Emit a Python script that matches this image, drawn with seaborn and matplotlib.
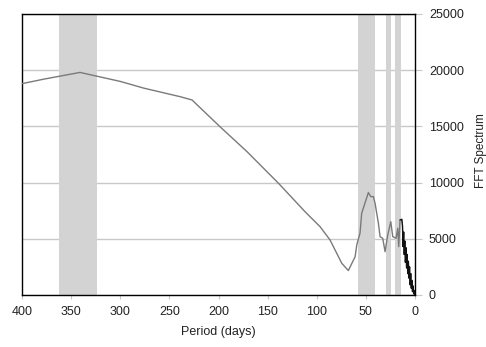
import numpy as np
import pandas as pd
import matplotlib
matplotlib.use("Agg")
import matplotlib.pyplot as plt
import seaborn as sns

# FFT spectrum (period in days, amplitude)
period = [400, 378, 341, 300, 276, 239, 227, 198.5, 171, 139, 112, 96.7, 86.5,
          74.6, 67.9, 61, 59.3, 56, 54.3, 47.5, 45.1, 42.4, 40.7, 37.3, 35.6,
          32.9, 30.5, 27.8, 24.7, 22.7, 19.3, 17.6, 16.6, 15.3,
          13.5, 12.8, 12.2, 11.6, 11.0, 10.4, 9.8, 9.2, 8.6, 8.0, 7.4, 6.8,
          6.2, 5.6, 5.0, 4.4, 3.8, 3.2, 2.6, 2.0, 1.4, 0.8, 0.3]
spectrum = [18800, 19200, 19800, 19000, 18400, 17640, 17350, 14970, 12750,
            9940, 7410, 6080, 4890, 2820, 2170, 3400, 4450, 5500, 7270, 9110,
            8750, 8750, 8160, 6380, 5190, 5040, 3850, 5340, 6520, 5190, 5040,
            5930, 4300, 6670,
            6730, 6200, 4300, 5600, 3600, 4800, 2900, 4200, 2400, 3600, 1900,
            3000, 1500, 2500, 900, 1900, 600, 1300, 300, 800, 100, 400, 0]

# shaded period bands (start, end) in days
bands = [(362, 324), (57.7, 40.4), (29.8, 24.7), (20, 14.6)]

x_ticks = [400, 350, 300, 250, 200, 150, 100, 50, 0]
y_ticks = [0, 5000, 10000, 15000, 20000, 25000]

df = pd.DataFrame({"period": period, "spectrum": spectrum})
tail = df[df["period"] <= 15.3]

sns.set_style("white")
plt.rcParams["font.family"] = ["Liberation Sans", "DejaVu Sans"]

fig = plt.figure(figsize=(4.86, 3.47), dpi=100)
ax = fig.add_axes([0.0453, 0.150, 0.8087, 0.8097])

for a, b in bands:
    ax.axvspan(a, b, color="#d3d3d3", lw=0, zorder=1)

ax.set_yticks(y_ticks)
ax.grid(axis="y", color="#c8c8c8", lw=1, zorder=0)
ax.set_axisbelow(True)

sns.lineplot(data=df, x="period", y="spectrum", ax=ax, color="#7a7a7a",
             lw=1.0, zorder=3)
sns.lineplot(data=tail, x="period", y="spectrum", ax=ax, color="#111111",
             lw=0.9, zorder=4)

ax.set_xlim(400, 0)
ax.set_ylim(0, 25000)
ax.set_xticks(x_ticks)
ax.set_xticklabels([str(t) for t in x_ticks])

ax.yaxis.tick_right()
ax.yaxis.set_label_position("right")
ax.tick_params(axis="y", which="both", right=True, left=False, length=5,
               color="#c8c8c8", labelsize=9, pad=5, labelcolor="#222222")
ax.tick_params(axis="x", bottom=True, length=3, color="#c8c8c8",
               labelsize=9, pad=5, labelcolor="#222222")

for s in ax.spines.values():
    s.set_visible(True)
    s.set_color("black")
    s.set_linewidth(1.0)

ax.set_xlabel("Period (days)", fontsize=9, color="#222222", labelpad=6)
ax.set_ylabel("FFT Spectrum", fontsize=8.5, color="#222222")
ax.yaxis.set_label_coords(1.153, 0.515)

fig.savefig("out.png", dpi=100, facecolor="white")
